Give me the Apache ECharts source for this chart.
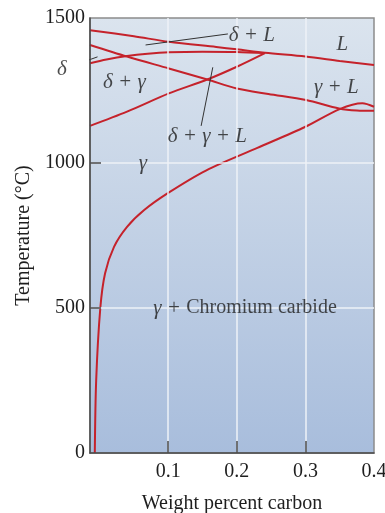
<!DOCTYPE html>
<html>
<head>
<meta charset="utf-8">
<script src="https://cdn.jsdelivr.net/npm/echarts@6/dist/echarts.min.js"></script>
<style>
    html, body { margin: 0; padding: 0; background: #fff; }
    #main { width: 385px; height: 513px; }
</style>
</head>
<body>
<div id="main"></div>
<script>
// axis ticks
var xTicks = [0.1, 0.2, 0.3, 0.4];
var yTicks = [0, 500, 1000, 1500];

// phase boundaries (wt% C, deg C)
var liquidusX = [-0.014, 0.05, 0.101, 0.17, 0.2, 0.241, 0.3, 0.35, 0.4];
var liquidusY = [1458, 1437, 1418, 1400, 1392, 1380, 1367, 1352, 1338];

var deltaSolidusX = [-0.014, 0.01, 0.04, 0.07, 0.101, 0.15, 0.2, 0.241];
var deltaSolidusY = [1344, 1357, 1369, 1377, 1382, 1384, 1383, 1379];

var gammaUpperX = [-0.014, 0.04, 0.101, 0.157, 0.2, 0.241];
var gammaUpperY = [1128, 1177, 1240, 1288, 1332, 1379];

var gammaLiquidusX = [-0.014, 0.04, 0.101, 0.157, 0.2, 0.246, 0.301, 0.349, 0.375, 0.4];
var gammaLiquidusY = [1407, 1367, 1326, 1288, 1257, 1238, 1217, 1188, 1181, 1180];

var solvusX = [-0.007, -0.005, 0.001, 0.008, 0.021, 0.04, 0.065, 0.1, 0.155, 0.23, 0.3, 0.35, 0.383, 0.4];
var solvusY = [0, 250, 499, 620, 711, 780, 838, 897, 974, 1052, 1125, 1186, 1206, 1194];

// region labels
var labelText = ['δ + L', 'L', 'δ', 'δ + γ', 'γ + L', 'δ + γ + L', 'γ', 'γ + Chromium carbide'];
var labelX = [0.222, 0.354, -0.055, 0.036, 0.345, 0.157, 0.063, 0.212];
var labelY = [1441, 1407, 1324, 1279, 1262, 1090, 1000, 500];

// leader lines [x1, y1, x2, y2]
var leaderDeltaL = [0.067, 1407, 0.187, 1445];
var leaderDelta = [-0.041, 1334, -0.003, 1366];
var leaderDeltaGammaL = [0.165, 1330, 0.148, 1128];

function zip(xs, ys) {
    return xs.map(function (x, i) { return [x, ys[i]]; });
}

function curve(xs, ys) {
    return {
        type: 'line',
        data: zip(xs, ys),
        smooth: 0.3,
        symbol: 'none',
        z: 3,
        lineStyle: { color: '#c5222b', width: 2 }
    };
}

function leader(l) {
    return {
        type: 'line',
        data: [[l[0], l[1]], [l[2], l[3]]],
        symbol: 'none',
        clip: false,
        z: 4,
        lineStyle: { color: '#333', width: 1 }
    };
}

var serif = '"Liberation Serif", "DejaVu Serif", serif';
var ink = '#1e1e1e';

var option = {
    animation: false,
    grid: {
        left: 90, right: 11, top: 18, bottom: 60,
        outerBoundsMode: 'none',
        containLabel: false,
        show: true,
        borderColor: '#8c8c8c',
        borderWidth: 1.5,
        backgroundColor: {
            type: 'linear', x: 0, y: 0, x2: 0, y2: 1,
            colorStops: [
                { offset: 0, color: '#dbe4ee' },
                { offset: 1, color: '#a8bddc' }
            ]
        }
    },
    xAxis: {
        type: 'value',
        min: -0.014,
        max: 0.4,
        z: 5,
        name: 'Weight percent carbon',
        nameLocation: 'middle',
        nameGap: 41,
        nameTextStyle: { fontFamily: serif, fontSize: 20, color: ink },
        axisLine: { show: true, onZero: false, lineStyle: { color: '#4a4a4a', width: 1.5 } },
        axisTick: { show: true, inside: true, length: 12, customValues: [0.1, 0.2, 0.3],
            lineStyle: { color: '#4a4a4a', width: 1.5 } },
        axisLabel: { customValues: xTicks, margin: 9, fontFamily: serif, fontSize: 20, color: ink,
            formatter: function (v) { return String(Math.round(v * 10) / 10); } },
        splitLine: { show: false }
    },
    yAxis: {
        type: 'value',
        min: 0,
        max: 1500,
        z: 5,
        name: 'Temperature (°C)',
        nameLocation: 'middle',
        nameGap: 54,
        nameTextStyle: { fontFamily: serif, fontSize: 20, color: ink },
        axisLine: { show: true, onZero: false, lineStyle: { color: '#4a4a4a', width: 1.5 } },
        axisTick: { show: true, inside: true, length: 11, customValues: [500, 1000],
            lineStyle: { color: '#4a4a4a', width: 1.5 } },
        axisLabel: { customValues: yTicks, margin: 5, fontFamily: serif, fontSize: 20, color: ink,
            formatter: function (v) { return String(v); } },
        splitLine: { show: false }
    },
    series: [
        {
            type: 'line',
            data: [],
            z: 1,
            silent: true,
            markLine: {
                silent: true,
                symbol: 'none',
                label: { show: false },
                lineStyle: { color: '#eef2f7', width: 1.5, type: 'solid' },
                data: [0.1, 0.2, 0.3].map(function (v) { return { xAxis: v }; })
                    .concat([500, 1000].map(function (v) { return { yAxis: v }; }))
            }
        },
        curve(liquidusX, liquidusY),
        curve(deltaSolidusX, deltaSolidusY),
        curve(gammaUpperX, gammaUpperY),
        curve(gammaLiquidusX, gammaLiquidusY),
        curve(solvusX, solvusY),
        leader(leaderDeltaL),
        leader(leaderDelta),
        leader(leaderDeltaGammaL),
        {
            type: 'scatter',
            clip: false,
            z: 6,
            symbolSize: 1,
            itemStyle: { color: 'rgba(0,0,0,0)' },
            data: labelText.map(function (t, i) { return { name: t, value: [labelX[i], labelY[i]] }; }),
            label: {
                show: true,
                position: 'inside',
                fontFamily: serif,
                fontSize: 21,
                fontStyle: 'italic',
                color: ink,
                formatter: function (p) {
                    return p.name.replace(/([A-Z][a-z]+(?: [a-z]+)*)/, '{r|$1}');
                },
                rich: {
                    r: { fontFamily: serif, fontSize: 20, fontStyle: 'normal', color: ink }
                }
            }
        }
    ]
};

var myChart = echarts.init(document.getElementById('main'));
myChart.setOption(option);
</script>
</body>
</html>
